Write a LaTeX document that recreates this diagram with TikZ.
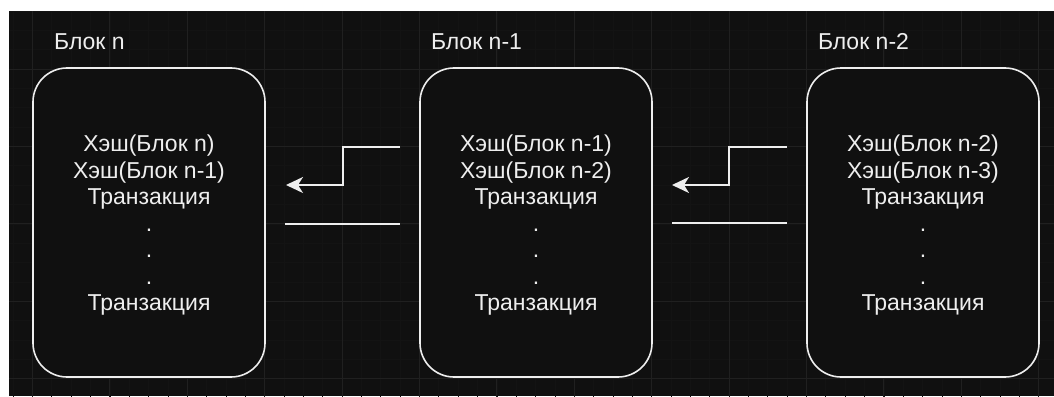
\documentclass[tikz,border=0pt]{standalone}
\usepackage{fontspec}
\setmainfont{Liberation Sans}
\usetikzlibrary{arrows.meta}

\definecolor{bgdark}{RGB}{16,16,16}
\definecolor{gridminor}{RGB}{19,19,19}
\definecolor{gridmajor}{RGB}{32,32,32}
\definecolor{inkwhite}{RGB}{238,238,238}

\begin{document}
\begin{tikzpicture}[x=1pt, y=-1pt,
    blockbox/.style={draw=inkwhite, line width=1.6pt, rounded corners=34pt,
        fill=bgdark, minimum width=232pt, minimum height=309pt},
    blocktext/.style={align=center, text=inkwhite,
        font=\fontsize{23}{26.5}\selectfont},
    caption/.style={text=inkwhite, font=\fontsize{23}{26.5}\selectfont},
    link/.style={draw=inkwhite, line width=1.8pt},
    tip/.style={-{Stealth[length=17pt, width=16pt, inset=5pt]}}]

    % Page frame and dark canvas
    \useasboundingbox (0,0) rectangle (1054,396);
    \fill[white] (0,0) rectangle (1054,396);
    \fill[bgdark] (9,12) rectangle (1054,396);

    % Background grid (minor and major lines)
    \begin{scope}[shift={(32.4,69)}]
        \clip (-23.4,-57) rectangle (1021.6,327);
        \draw[gridminor, line width=0.6pt, step=19.35pt] (-40,-80) grid (1040,340);
        \draw[gridmajor, line width=0.8pt, step=77.4pt] (-40,-80) grid (1040,340);
    \end{scope}

    % The three blocks
    \node[blockbox] (b1) at (149,222.5) {};
    \node[blockbox] (b2) at (536,222.5) {};
    \node[blockbox] (b3) at (923,222.5) {};

    % Block contents
    \node[blocktext] (c1) at ([yshift=-3pt]b1.center)
        {Хэш(Блок n)\\Хэш(Блок n-1)\\Транзакция\\.\\.\\.\\Транзакция};
    \node[blocktext] (c2) at ([yshift=-3pt]b2.center)
        {Хэш(Блок n-1)\\Хэш(Блок n-2)\\Транзакция\\.\\.\\.\\Транзакция};
    \node[blocktext] (c3) at ([yshift=-3pt]b3.center)
        {Хэш(Блок n-2)\\Хэш(Блок n-3)\\Транзакция\\.\\.\\.\\Транзакция};

    % Block titles
    \node[caption] (t1) at (89.5,42) {Блок n};
    \node[caption] (t2) at (476.5,42) {Блок n-1};
    \node[caption] (t3) at (863.5,42) {Блок n-2};

    % Links between blocks
    \coordinate (s1) at (400,147);
    \coordinate (e1) at (286,185);
    \coordinate (r1) at (400,224);
    \coordinate (l1) at (285,224);
    \coordinate (s2) at (787,147);
    \coordinate (e2) at (672,185);
    \coordinate (r2) at (787,223);
    \coordinate (l2) at (672,223);

    \draw[link, tip] (s1) -- ++(-57,0) |- (e1);
    \draw[link] (r1) -- (l1);
    \draw[link, tip] (s2) -- ++(-58,0) |- (e2);
    \draw[link] (r2) -- (l2);
\end{tikzpicture}
\end{document}
